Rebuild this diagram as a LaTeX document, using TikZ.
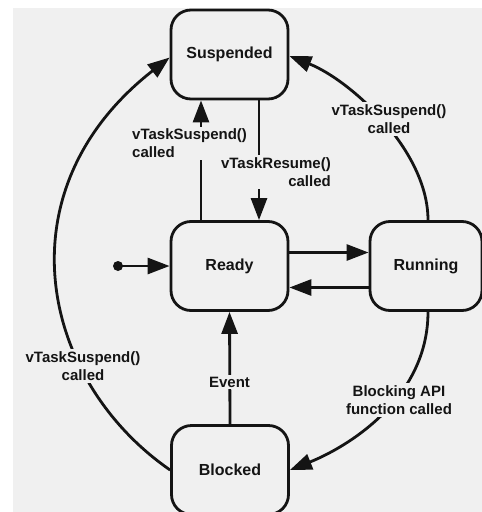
\documentclass[tikz,border=0pt]{standalone}
\usepackage{fontspec}
\setmainfont{Liberation Sans}
\usetikzlibrary{arrows.meta}
\definecolor{bg}{RGB}{240,240,240}
\definecolor{ink}{RGB}{20,20,20}
\begin{document}
\begin{tikzpicture}[x=1pt,y=-1pt,
  state/.style={draw=ink, line width=2.8pt, rounded corners=20pt, fill=bg,
    minimum width=117pt, minimum height=89pt, inner sep=0pt,
    font=\fontsize{16}{18}\selectfont\bfseries, text=ink},
  conn/.style={draw=ink, line width=2.8pt, -{Triangle[length=22pt,width=16pt]}},
  lbl/.style={fill=bg, inner sep=2pt, text=ink,
    font=\fontsize{15}{18}\selectfont\bfseries}]
\useasboundingbox (0,0) rectangle (482,512);
\clip (0,0) rectangle (482,512);
\fill[white] (0,0) rectangle (482,512);
\fill[bg] (13,8) rectangle (482,512);

\node[state] (susp) at (229.5,54.5) {Suspended};
\node[state] (ready) at (229.5,266) {Ready};
\node[state, minimum width=112pt] (run) at (426,266) {Running};
\node[state] (block) at (230,470) {Blocked};
\node[circle, fill=ink, inner sep=0pt, minimum size=10pt] (init) at (118,266) {};

% straight connectors
\draw[conn] (init.center) -- (ready.west);
\draw[conn] ([yshift=13.5pt]ready.east) -- ([yshift=13.5pt]run.west);
\draw[conn] ([yshift=-21.5pt]run.west) -- ([yshift=-21.5pt]ready.east);
\draw[conn] ([xshift=-28.5pt]ready.north) -- ([xshift=-28.5pt]susp.south);
\draw[conn] ([xshift=29.5pt]susp.south) -- ([xshift=29.5pt]ready.north);
\draw[conn] (block.north) -- (ready.south);

% curved connectors
\draw[conn] ([xshift=2pt]run.north) .. controls (428,150) and (350,80) .. ([yshift=-1.5pt]susp.east);
\draw[conn] ([xshift=2pt]run.south) .. controls (428,400) and (345,448) .. (block.east);
\draw[conn] (block.west) .. controls (40,380) and (0,190) .. ([yshift=-3pt]susp.west);

% labels
\node[lbl, anchor=west, align=left] (l1) at (130,143.5) {vTaskSuspend()\\called};
\node[lbl, anchor=east, align=right] (l2) at (333,172) {vTaskResume()\\called};
\node[lbl, align=center] (l3) at (389,119) {vTaskSuspend()\\called};
\node[lbl, align=center] (l4) at (83,366) {vTaskSuspend()\\called};
\node[lbl] (l5) at (229.5,382) {Event};
\node[lbl, align=center] (l6) at (399,400) {Blocking API\\function called};
\end{tikzpicture}
\end{document}
